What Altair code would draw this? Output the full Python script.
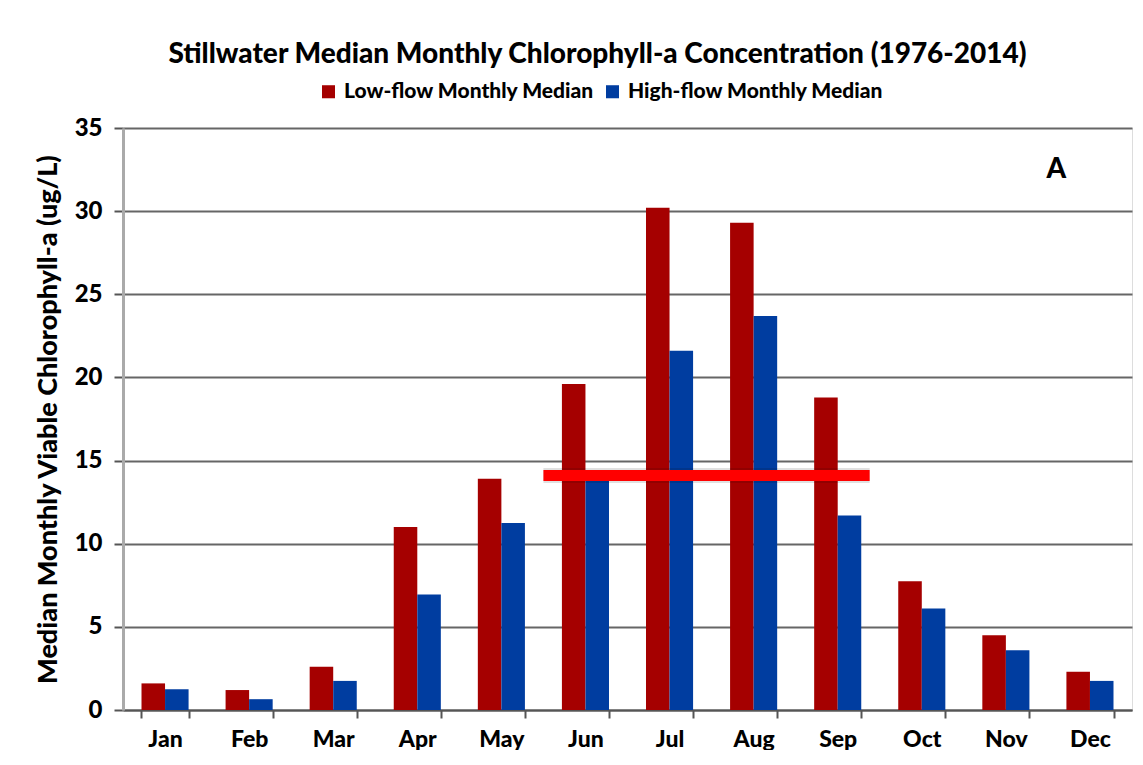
import altair as alt
import pandas as pd

months = ["Jan", "Feb", "Mar", "Apr", "May", "Jun", "Jul", "Aug", "Sep", "Oct", "Nov", "Dec"]
low_flow = [1.6, 1.2, 2.6, 11.0, 13.9, 19.6, 30.2, 29.3, 18.8, 7.75, 4.5, 2.3]
high_flow = [1.25, 0.65, 1.75, 6.95, 11.25, 14.0, 21.6, 23.7, 11.7, 6.1, 3.6, 1.75]
series_names = ["Low-flow Monthly Median", "High-flow Monthly Median"]
series_colors = ["#A50000", "#003DA0"]

threshold_value = [14.1]
threshold_start = [5.0]   # month-index units (left edge of Jun)
threshold_end = [8.88]    # month-index units (most of Sep)
label_text = ["A"]
label_x = [11.1]
label_y = [32.5]

FONT = "Lato"
W = 900

rows = []
for m, lo, hi in zip(months, low_flow, high_flow):
    rows.append({"month": m, "series": series_names[0], "value": lo})
    rows.append({"month": m, "series": series_names[1], "value": hi})
df = pd.DataFrame(rows)

y_scale = alt.Scale(domain=[0, 35])

bars = alt.Chart(df).mark_bar().encode(
    x=alt.X("month:N", sort=months, title=None,
            scale=alt.Scale(paddingInner=0.44, paddingOuter=0.22),
            axis=alt.Axis(labelAngle=0, tickBand="extent", labelFont=FONT, labelFontSize=23,
                          labelFontWeight=W, labelColor="#000", labelPadding=10,
                          tickColor="#555", tickSize=8, tickWidth=2,
                          domainColor="#555", domainWidth=2)),
    xOffset=alt.XOffset("series:N", sort=series_names),
    y=alt.Y("value:Q", scale=y_scale,
            title="Median Monthly Viable Chlorophyll-a (ug/L)",
            axis=alt.Axis(values=[0, 5, 10, 15, 20, 25, 30, 35], labelFont=FONT, labelFontSize=24,
                          labelFontWeight=W, labelColor="#000", labelPadding=12,
                          tickColor="#555", tickSize=9, tickWidth=2,
                          domainColor="#aaa", domainWidth=3,
                          grid=True, gridColor="#666", gridWidth=2,
                          titleFont=FONT, titleFontSize=27, titleFontWeight=W,
                          titleColor="#000", titlePadding=12)),
    color=alt.Color("series:N", sort=series_names,
                    scale=alt.Scale(domain=series_names, range=series_colors),
                    legend=alt.Legend(title=None, orient="none", direction="horizontal",
                                      legendX=195, legendY=-47, symbolType="square",
                                      symbolSize=170, symbolStrokeWidth=0,
                                      labelFont=FONT, labelFontSize=21, labelFontWeight=W,
                                      labelColor="#000", columnPadding=7, labelOffset=5,
                                      labelLimit=0)),
)

tdf = pd.DataFrame({"start": threshold_start, "end": threshold_end, "v": threshold_value})
xq = alt.Scale(domain=[0, 12], nice=False, zero=False)

shadow = alt.Chart(tdf).mark_rule(color="#000", strokeWidth=15, opacity=0.12).encode(
    x=alt.X("start:Q", scale=xq, axis=None),
    x2="end:Q",
    y=alt.Y("v:Q", scale=y_scale),
)
rule = alt.Chart(tdf).mark_rule(color="#FF0000", strokeWidth=11).encode(
    x=alt.X("start:Q", scale=xq, axis=None),
    x2="end:Q",
    y=alt.Y("v:Q", scale=y_scale),
)

ldf = pd.DataFrame({"t": label_text, "x": label_x, "y": label_y})
label = alt.Chart(ldf).mark_text(font=FONT, fontSize=28, fontWeight=W, color="#000").encode(
    x=alt.X("x:Q", scale=xq, axis=None),
    y=alt.Y("y:Q", scale=y_scale),
    text="t:N",
)

over = alt.layer(shadow, rule, label)

chart = alt.layer(bars, over).resolve_scale(x="independent").properties(
    width=1009,
    height=582,
    title=alt.TitleParams("Stillwater Median Monthly Chlorophyll-a Concentration (1976-2014)",
                          font=FONT, fontSize=28, fontWeight=W, color="#000",
                          anchor="middle", dx=-30, offset=12),
    autosize=alt.AutoSizeParams(type="none"),
    padding={"left": 115, "top": 120, "right": 3, "bottom": 40},
).configure_view(stroke=None).configure(background="white")

chart.save("out.html", embed_options={"renderer": "svg", "actions": False})
